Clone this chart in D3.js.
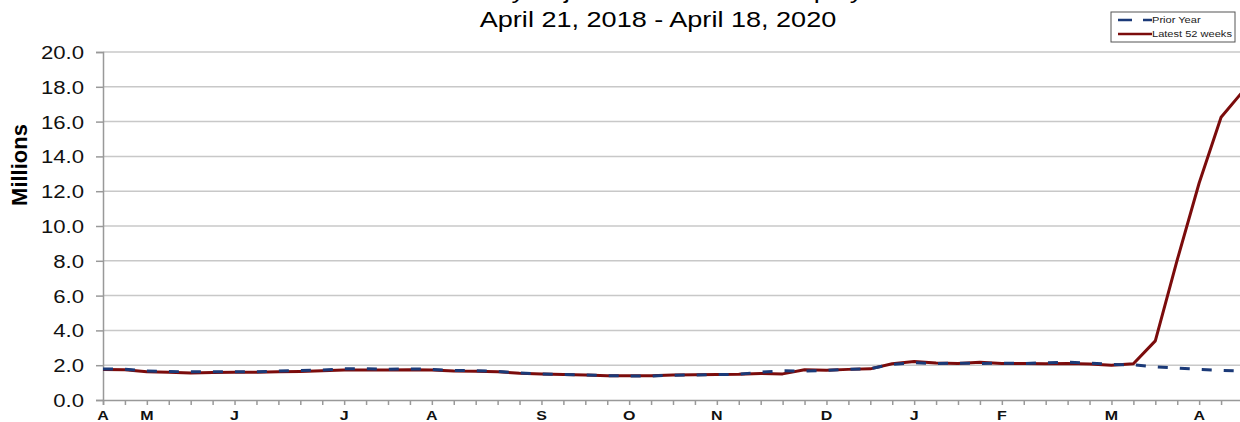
<!DOCTYPE html>
<html>
<head>
<meta charset="utf-8">
<script src="https://cdn.jsdelivr.net/npm/d3@7"></script>
<style>
body { margin: 0; background: #fff; }
text { font-family: "Liberation Sans", Arial, sans-serif; }
</style>
</head>
<body>
<svg id="chart"></svg>
<script>
// weekly values in millions, 53 weeks
var latest = [1.75, 1.74, 1.62, 1.60, 1.55, 1.58, 1.60, 1.60, 1.62, 1.64,
  1.68, 1.73, 1.73, 1.72, 1.74, 1.73, 1.66, 1.65, 1.62, 1.54,
  1.50, 1.47, 1.43, 1.40, 1.39, 1.39, 1.43, 1.45, 1.47, 1.48,
  1.52, 1.50, 1.74, 1.71, 1.76, 1.79, 2.08, 2.21, 2.13, 2.10,
  2.17, 2.10, 2.10, 2.08, 2.10, 2.07, 2.00, 2.08, 3.40, 8.05,
  12.47, 16.25, 17.75];
var prior = [1.78, 1.77, 1.66, 1.64, 1.62, 1.62, 1.62, 1.62, 1.66, 1.70,
  1.72, 1.79, 1.79, 1.76, 1.79, 1.76, 1.70, 1.68, 1.64, 1.56,
  1.50, 1.47, 1.44, 1.40, 1.38, 1.38, 1.42, 1.44, 1.46, 1.48,
  1.60, 1.68, 1.66, 1.70, 1.76, 1.80, 2.05, 2.14, 2.10, 2.12,
  2.10, 2.12, 2.10, 2.14, 2.17, 2.12, 2.05, 2.02, 1.90, 1.84,
  1.76, 1.70, 1.66];
var monthLabels = ["A", "M", "J", "J", "A", "S", "O", "N", "D", "J", "F", "M", "A"];
var monthWeeks = [0, 2, 6, 11, 15, 20, 24, 28, 33, 37, 41, 46, 50];
var yTicks = [0, 2, 4, 6, 8, 10, 12, 14, 16, 18, 20];
var seriesNames = ["Prior Year", "Latest 52 weeks"];

var svgWidth = 1240, svgHeight = 422;
var stretch = "scale(1.23,1)"; // the original image is a bit wide

var svg = d3.select("#chart")
  .attr("width", svgWidth)
  .attr("height", svgHeight);

var x = d3.scaleLinear()
  .domain([0, 52])
  .range([103, 1243]);

var y = d3.scaleLinear()
  .domain([0, 20])
  .range([400, 52]);

// gridlines
svg.append("g")
  .selectAll("line")
  .data(yTicks.slice(1))
  .enter()
  .append("line")
  .attr("x1", 103)
  .attr("x2", svgWidth)
  .attr("y1", function(d) { return y(d); })
  .attr("y2", function(d) { return y(d); })
  .attr("stroke", "#c8c8c8")
  .attr("stroke-width", 1.5);

// y axis
var yAxis = svg.append("g")
  .attr("transform", "translate(103,0)")
  .call(d3.axisLeft(y).tickValues(yTicks).tickSize(7).tickFormat(d3.format(".1f")));
yAxis.select(".domain").attr("stroke", "#999").attr("stroke-width", 1.5);
yAxis.selectAll(".tick line").attr("stroke", "#999").attr("stroke-width", 1.5);
yAxis.selectAll(".tick text")
  .attr("x", 0)
  .attr("transform", "translate(-19,0) " + stretch)
  .attr("dy", "0.36em")
  .style("font-size", "18px")
  .attr("fill", "#111");

// x axis, one tick a week
var xAxis = svg.append("g")
  .attr("transform", "translate(0,400)")
  .call(d3.axisBottom(x).tickValues(d3.range(0, 53)).tickSize(5).tickFormat(""));
xAxis.select(".domain").attr("stroke", "#999").attr("stroke-width", 1.5);
xAxis.selectAll(".tick line").attr("stroke", "#999").attr("stroke-width", 1.5);

svg.append("g")
  .selectAll("text")
  .data(monthLabels)
  .enter()
  .append("text")
  .attr("transform", function(d, i) { return "translate(" + x(monthWeeks[i]) + ",420) " + stretch; })
  .style("text-anchor", "middle")
  .style("font-size", "13px")
  .style("font-weight", "bold")
  .attr("fill", "#111")
  .text(function(d) { return d; });

svg.append("text")
  .attr("transform", "translate(27,165) rotate(-90)")
  .style("text-anchor", "middle")
  .style("font-size", "22px")
  .style("font-weight", "bold")
  .text("Millions");

// title, first line runs off the top
svg.append("text")
  .attr("transform", "translate(658,-2) " + stretch)
  .style("text-anchor", "middle")
  .style("font-size", "22px")
  .text("Seasonally Adjusted Insured Unemployment");
svg.append("text")
  .attr("transform", "translate(658,27) " + stretch)
  .style("text-anchor", "middle")
  .style("font-size", "22px")
  .text("April 21, 2018 - April 18, 2020");

var line = d3.line()
  .x(function(d, i) { return x(i); })
  .y(function(d) { return y(d); });

svg.append("path")
  .datum(latest)
  .attr("d", line)
  .attr("fill", "none")
  .attr("stroke", "#7b0c0c")
  .attr("stroke-width", 3)
  .attr("stroke-linejoin", "round");

svg.append("path")
  .datum(prior)
  .attr("d", line)
  .attr("fill", "none")
  .attr("stroke", "#1b3a78")
  .attr("stroke-width", 3)
  .attr("stroke-dasharray", "10,12");

// legend
var legend = svg.append("g").attr("transform", "translate(1111,12)");
legend.append("rect")
  .attr("width", 124)
  .attr("height", 30)
  .attr("fill", "#fff")
  .attr("stroke", "#555")
  .attr("stroke-width", 1);
legend.selectAll("line")
  .data(seriesNames)
  .enter()
  .append("line")
  .attr("x1", 7)
  .attr("x2", 41)
  .attr("y1", function(d, i) { return 8 + i * 14; })
  .attr("y2", function(d, i) { return 8 + i * 14; })
  .attr("stroke", function(d, i) { return i == 0 ? "#1b3a78" : "#7b0c0c"; })
  .attr("stroke-width", 2.5)
  .attr("stroke-dasharray", function(d, i) { return i == 0 ? "14,11" : null; });
legend.selectAll("text")
  .data(seriesNames)
  .enter()
  .append("text")
  .attr("transform", function(d, i) { return "translate(41," + (11 + i * 14) + ") " + stretch; })
  .style("font-size", "9px")
  .attr("fill", "#222")
  .text(function(d) { return d; });
</script>
</body>
</html>
